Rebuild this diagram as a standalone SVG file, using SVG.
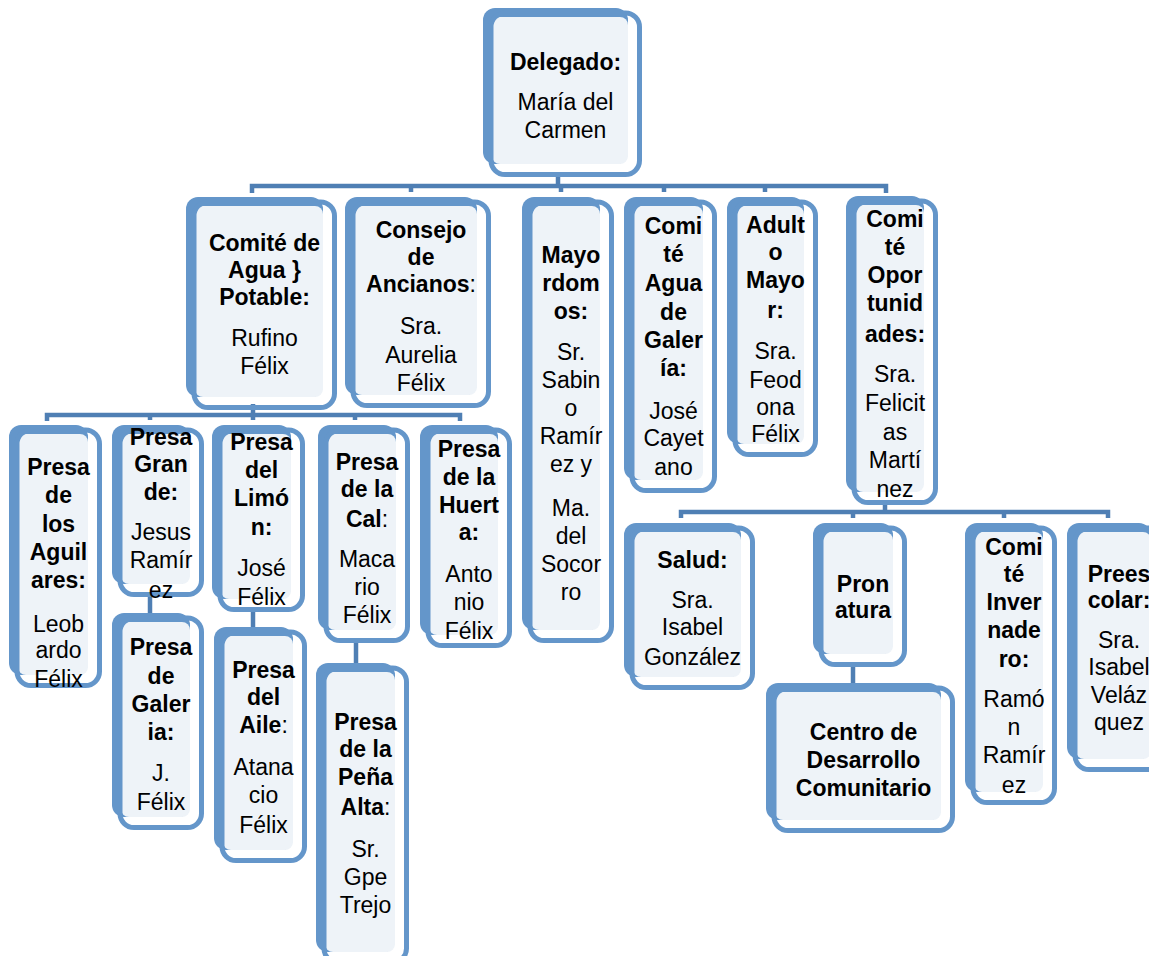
<svg xmlns="http://www.w3.org/2000/svg" width="1149" height="956" viewBox="0 0 1149 956">
<style>
.bk{fill:#6496CA}
.lt{fill:#EEF3F8}
.ol{fill:none;stroke:#6496CA;stroke-width:5}
#connectors path{fill:none;stroke:#4F7FB4;stroke-width:4.5}
text{font-family:"Liberation Sans",Arial,sans-serif;font-size:23px;fill:#000;text-anchor:middle}
.b{font-weight:bold}
</style>
<rect width="1149" height="956" fill="#fff"/>
<g id="connectors">
<path d="M252,193 V186 H886 V193 M411,186 V192 M561,186 V192 M558,174 V186 M664,186 V192 M765,186 V192"/>
<path d="M47,421 V415 H460 V421 M150,415 V420 M253,404 V420 M355,415 V420"/>
<path d="M681,518 V512 H1108 V518 M853,512 V518 M885,502 V512 M1004,512 V518"/>
<path d="M150,594 V614 M253,608 V628 M356,640 V664 M853,664 V684"/>
</g>
<g id="n-delegado">
<rect class="bk" x="483" y="8" width="145" height="156" rx="12"/>
<rect class="lt" x="492" y="17" width="136" height="147" rx="8"/>
<rect class="ol" x="491" y="13" width="148.5" height="161.5" rx="14"/>
<text><tspan class="b" x="565.5" y="70">Delegado:</tspan><tspan x="565.5" y="110">María del</tspan><tspan x="565.5" y="138">Carmen</tspan></text>
</g>
<g id="n-agua-potable">
<rect class="bk" x="186" y="197" width="137" height="200" rx="12"/>
<rect class="lt" x="195" y="206" width="128" height="191" rx="8"/>
<rect class="ol" x="194" y="202" width="140.5" height="205.5" rx="14"/>
<text><tspan class="b" x="264.5" y="251">Comité de</tspan><tspan class="b" x="264.5" y="278">Agua }</tspan><tspan class="b" x="264.5" y="305">Potable:</tspan><tspan x="264.5" y="346">Rufino</tspan><tspan x="264.5" y="374">Félix</tspan></text>
</g>
<g id="n-consejo">
<rect class="bk" x="345" y="197" width="132" height="198" rx="12"/>
<rect class="lt" x="354" y="206" width="123" height="189" rx="8"/>
<rect class="ol" x="353" y="202" width="135.5" height="203.5" rx="14"/>
<text><tspan class="b" x="421" y="238">Consejo</tspan><tspan class="b" x="421" y="265">de</tspan><tspan x="421" y="292"><tspan class="b">Ancianos</tspan>:</tspan><tspan x="421" y="334">Sra.</tspan><tspan x="421" y="363">Aurelia</tspan><tspan x="421" y="391">Félix</tspan></text>
</g>
<g id="n-mayordomos">
<rect class="bk" x="522" y="197" width="78" height="433" rx="12"/>
<rect class="lt" x="531" y="206" width="69" height="424" rx="8"/>
<rect class="ol" x="530" y="202" width="81.5" height="438.5" rx="14"/>
<text><tspan class="b" x="571" y="263">Mayo</tspan><tspan class="b" x="571" y="291">rdom</tspan><tspan class="b" x="571" y="319">os:</tspan><tspan x="571" y="360">Sr.</tspan><tspan x="571" y="388">Sabin</tspan><tspan x="571" y="416">o</tspan><tspan x="571" y="444">Ramír</tspan><tspan x="571" y="472">ez y</tspan><tspan x="571" y="516">Ma.</tspan><tspan x="571" y="544">del</tspan><tspan x="571" y="572">Socor</tspan><tspan x="571" y="600">ro</tspan></text>
</g>
<g id="n-agua-galeria">
<rect class="bk" x="624" y="197" width="79" height="283" rx="12"/>
<rect class="lt" x="633" y="206" width="70" height="274" rx="8"/>
<rect class="ol" x="632" y="202" width="82.5" height="288.5" rx="14"/>
<text><tspan class="b" x="673.5" y="234">Comi</tspan><tspan class="b" x="673.5" y="262">té</tspan><tspan class="b" x="673.5" y="291">Agua</tspan><tspan class="b" x="673.5" y="320">de</tspan><tspan class="b" x="673.5" y="348">Galer</tspan><tspan class="b" x="673.5" y="376">ía:</tspan><tspan x="673.5" y="419">José</tspan><tspan x="673.5" y="446">Cayet</tspan><tspan x="673.5" y="475">ano</tspan></text>
</g>
<g id="n-adulto-mayor">
<rect class="bk" x="727" y="197" width="77" height="247" rx="12"/>
<rect class="lt" x="736" y="206" width="68" height="238" rx="8"/>
<rect class="ol" x="735" y="202" width="80.5" height="252.5" rx="14"/>
<text><tspan class="b" x="775.5" y="233">Adult</tspan><tspan class="b" x="775.5" y="260">o</tspan><tspan class="b" x="775.5" y="288">Mayo</tspan><tspan class="b" x="775.5" y="318">r:</tspan><tspan x="775.5" y="359">Sra.</tspan><tspan x="775.5" y="388">Feod</tspan><tspan x="775.5" y="415">ona</tspan><tspan x="775.5" y="442">Félix</tspan></text>
</g>
<g id="n-oportunidades">
<rect class="bk" x="846" y="196" width="78" height="296" rx="12"/>
<rect class="lt" x="855" y="205" width="69" height="287" rx="8"/>
<rect class="ol" x="854" y="201" width="81.5" height="301.5" rx="14"/>
<text><tspan class="b" x="895" y="227">Comi</tspan><tspan class="b" x="895" y="255">té</tspan><tspan class="b" x="895" y="283">Opor</tspan><tspan class="b" x="895" y="311">tunid</tspan><tspan class="b" x="895" y="342">ades:</tspan><tspan x="895" y="382">Sra.</tspan><tspan x="895" y="411">Felicit</tspan><tspan x="895" y="440">as</tspan><tspan x="895" y="468">Martí</tspan><tspan x="895" y="497">nez</tspan></text>
</g>
<g id="n-aguilares">
<rect class="bk" x="9" y="425" width="79" height="250" rx="12"/>
<rect class="lt" x="18" y="434" width="70" height="241" rx="8"/>
<rect class="ol" x="17" y="430" width="82.5" height="255.5" rx="14"/>
<text><tspan class="b" x="58.5" y="475">Presa</tspan><tspan class="b" x="58.5" y="503">de</tspan><tspan class="b" x="58.5" y="532">los</tspan><tspan class="b" x="58.5" y="560">Aguil</tspan><tspan class="b" x="58.5" y="588">ares:</tspan><tspan x="58.5" y="632">Leob</tspan><tspan x="58.5" y="658">ardo</tspan><tspan x="58.5" y="687">Félix</tspan></text>
</g>
<g id="n-grande">
<rect class="bk" x="112" y="425" width="78" height="159" rx="12"/>
<rect class="lt" x="121" y="434" width="69" height="150" rx="8"/>
<rect class="ol" x="120" y="430" width="81.5" height="164.5" rx="14"/>
<text><tspan class="b" x="161" y="445">Presa</tspan><tspan class="b" x="161" y="472">Gran</tspan><tspan class="b" x="161" y="500">de:</tspan><tspan x="161" y="540">Jesus</tspan><tspan x="161" y="568">Ramír</tspan><tspan x="161" y="598">ez</tspan></text>
</g>
<g id="n-galeria">
<rect class="bk" x="112" y="613" width="78" height="204" rx="12"/>
<rect class="lt" x="121" y="622" width="69" height="195" rx="8"/>
<rect class="ol" x="120" y="618" width="81.5" height="209.5" rx="14"/>
<text><tspan class="b" x="161" y="655">Presa</tspan><tspan class="b" x="161" y="684">de</tspan><tspan class="b" x="161" y="712">Galer</tspan><tspan class="b" x="161" y="740">ia:</tspan><tspan x="161" y="781">J.</tspan><tspan x="161" y="810">Félix</tspan></text>
</g>
<g id="n-limon">
<rect class="bk" x="212" y="425" width="79" height="174" rx="12"/>
<rect class="lt" x="221" y="434" width="70" height="165" rx="8"/>
<rect class="ol" x="220" y="430" width="82.5" height="179.5" rx="14"/>
<text><tspan class="b" x="261.5" y="450">Presa</tspan><tspan class="b" x="261.5" y="478">del</tspan><tspan class="b" x="261.5" y="506">Limó</tspan><tspan class="b" x="261.5" y="535">n:</tspan><tspan x="261.5" y="576">José</tspan><tspan x="261.5" y="605">Félix</tspan></text>
</g>
<g id="n-aile">
<rect class="bk" x="214" y="627" width="79" height="223" rx="12"/>
<rect class="lt" x="223" y="636" width="70" height="214" rx="8"/>
<rect class="ol" x="222" y="632" width="82.5" height="228.5" rx="14"/>
<text><tspan class="b" x="263.5" y="678">Presa</tspan><tspan class="b" x="263.5" y="705">del</tspan><tspan x="263.5" y="733"><tspan class="b">Aile</tspan>:</tspan><tspan x="263.5" y="775">Atana</tspan><tspan x="263.5" y="803">cio</tspan><tspan x="263.5" y="833">Félix</tspan></text>
</g>
<g id="n-cal">
<rect class="bk" x="318" y="425" width="78" height="205" rx="12"/>
<rect class="lt" x="327" y="434" width="69" height="196" rx="8"/>
<rect class="ol" x="326" y="430" width="81.5" height="210.5" rx="14"/>
<text><tspan class="b" x="367" y="470">Presa</tspan><tspan class="b" x="367" y="497">de la</tspan><tspan x="367" y="527"><tspan class="b">Cal</tspan>:</tspan><tspan x="367" y="567">Maca</tspan><tspan x="367" y="595">rio</tspan><tspan x="367" y="623">Félix</tspan></text>
</g>
<g id="n-pena-alta">
<rect class="bk" x="316" y="663" width="79" height="289" rx="12"/>
<rect class="lt" x="325" y="672" width="70" height="280" rx="8"/>
<rect class="ol" x="324" y="668" width="82.5" height="294.5" rx="14"/>
<text><tspan class="b" x="365.5" y="730">Presa</tspan><tspan class="b" x="365.5" y="757">de la</tspan><tspan class="b" x="365.5" y="785">Peña</tspan><tspan x="365.5" y="815"><tspan class="b">Alta</tspan>:</tspan><tspan x="365.5" y="857">Sr.</tspan><tspan x="365.5" y="885">Gpe</tspan><tspan x="365.5" y="913">Trejo</tspan></text>
</g>
<g id="n-huerta">
<rect class="bk" x="420" y="425" width="78" height="210" rx="12"/>
<rect class="lt" x="429" y="434" width="69" height="201" rx="8"/>
<rect class="ol" x="428" y="430" width="81.5" height="215.5" rx="14"/>
<text><tspan class="b" x="469" y="457">Presa</tspan><tspan class="b" x="469" y="485">de la</tspan><tspan class="b" x="469" y="513">Huert</tspan><tspan class="b" x="469" y="540">a:</tspan><tspan x="469" y="582">Anto</tspan><tspan x="469" y="610">nio</tspan><tspan x="469" y="639">Félix</tspan></text>
</g>
<g id="n-salud">
<rect class="bk" x="624" y="523" width="117" height="154" rx="12"/>
<rect class="lt" x="633" y="532" width="108" height="145" rx="8"/>
<rect class="ol" x="632" y="528" width="120.5" height="159.5" rx="14"/>
<text><tspan class="b" x="692.5" y="568">Salud:</tspan><tspan x="692.5" y="608">Sra.</tspan><tspan x="692.5" y="635">Isabel</tspan><tspan x="692.5" y="665">González</tspan></text>
</g>
<g id="n-pronatura">
<rect class="bk" x="813" y="523" width="80" height="131" rx="12"/>
<rect class="lt" x="822" y="532" width="71" height="122" rx="8"/>
<rect class="ol" x="821" y="528" width="83.5" height="136.5" rx="14"/>
<text><tspan class="b" x="863" y="592">Pron</tspan><tspan class="b" x="863" y="618">atura</tspan></text>
</g>
<g id="n-centro">
<rect class="bk" x="766" y="683" width="175" height="137" rx="12"/>
<rect class="lt" x="775" y="692" width="166" height="128" rx="8"/>
<rect class="ol" x="774" y="688" width="178.5" height="142.5" rx="14"/>
<text><tspan class="b" x="863.5" y="740">Centro de</tspan><tspan class="b" x="863.5" y="768">Desarrollo</tspan><tspan class="b" x="863.5" y="796">Comunitario</tspan></text>
</g>
<g id="n-invernadero">
<rect class="bk" x="965" y="523" width="78" height="269" rx="12"/>
<rect class="lt" x="974" y="532" width="69" height="260" rx="8"/>
<rect class="ol" x="973" y="528" width="81.5" height="274.5" rx="14"/>
<text><tspan class="b" x="1014" y="555">Comi</tspan><tspan class="b" x="1014" y="582">té</tspan><tspan class="b" x="1014" y="610">Inver</tspan><tspan class="b" x="1014" y="638">nade</tspan><tspan class="b" x="1014" y="667">ro:</tspan><tspan x="1014" y="707">Ramó</tspan><tspan x="1014" y="735">n</tspan><tspan x="1014" y="763">Ramír</tspan><tspan x="1014" y="793">ez</tspan></text>
</g>
<g id="n-preescolar">
<rect class="bk" x="1067" y="523" width="84" height="236" rx="12"/>
<rect class="lt" x="1076" y="532" width="75" height="227" rx="8"/>
<rect class="ol" x="1075" y="528" width="87.5" height="241.5" rx="14"/>
<text><tspan class="b" x="1119" y="582">Prees</tspan><tspan class="b" x="1119" y="608">colar:</tspan><tspan x="1119" y="648">Sra.</tspan><tspan x="1119" y="675">Isabel</tspan><tspan x="1119" y="703">Veláz</tspan><tspan x="1119" y="730">quez</tspan></text>
</g>
</svg>
